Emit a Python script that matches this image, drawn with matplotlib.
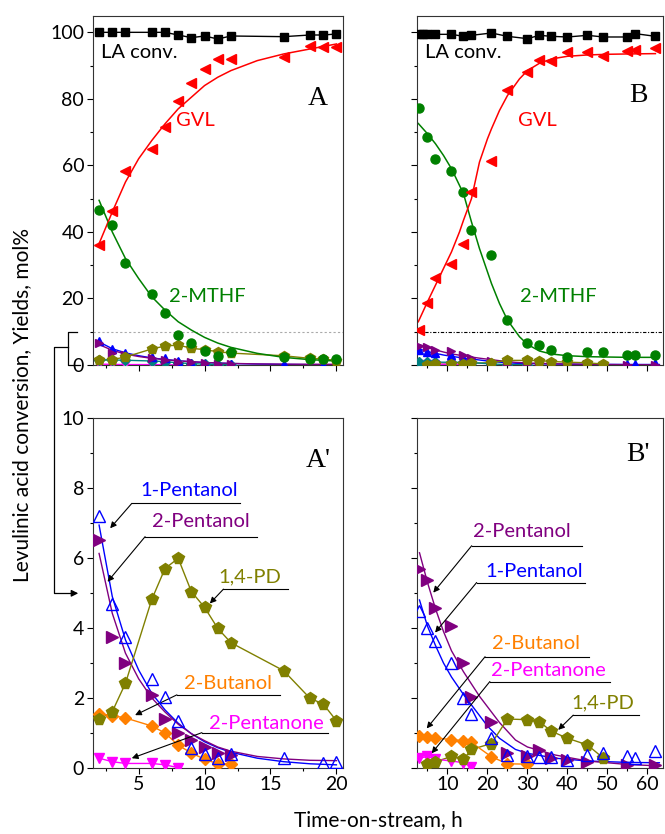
import matplotlib
matplotlib.use('Agg')
import matplotlib.pyplot as plt
from matplotlib.lines import Line2D
from matplotlib.ticker import MultipleLocator

plt.rcParams['font.family'] = ['Lato', 'DejaVu Sans']

# ---- run A (0-20 h) ----
tA = [2, 3, 4, 6, 7, 8, 9, 10, 11, 12, 16, 18, 19, 20]
la_A = [100, 100, 100, 100, 100, 99.2, 98.4, 98.9, 98, 98.9, 98.7, 99.2, 99.2, 99.5]
gvl_A = [36.1, 46.4, 58.4, 64.8, 71.4, 79.4, 84.9, 88.9, 91.9, 91.9, 92.7, 95.9, 95.7, 95.7]
mthf_A = [46.6, 42.1, 30.6, 21.3, 15.7, 9.0, 6.7, 4.2, 2.7, 3.9, 2.5, 1.7, 1.7, 1.7]
pd_A = [1.39, 1.61, 2.42, 4.82, 5.7, 5.99, 5.04, 4.59, 3.99, 3.58, 2.78, 1.99, 1.83, 1.35]

t_pen1_A = [2, 3, 4, 6, 7, 8, 9, 10, 11, 12, 16, 19, 20]
pen1_A = [7.2, 4.7, 3.75, 2.53, 2.04, 1.33, 0.58, 0.39, 0.28, 0.39, 0.28, 0.15, 0.18]
t_pen2_A = [2, 3, 4, 6, 7, 8, 9, 10, 11, 12]
pen2_A = [6.51, 3.75, 3.01, 2.09, 1.39, 0.99, 0.8, 0.6, 0.42, 0.37]
t_but_A = [2, 3, 4, 6, 7, 8, 9, 10, 11, 12]
but_A = [1.55, 1.5, 1.43, 1.2, 1.0, 0.65, 0.43, 0.25, 0.12, 0.12]
t_pnone_A = [2, 3, 4, 6, 7, 8]
pnone_A = [0.28, 0.18, 0.13, 0.13, 0.09, 0.01]

# fitted curves
t_fitA = [2, 3, 4, 5, 6, 7, 8, 9, 10, 11, 12, 14, 16, 18, 20]
gvl_fit_A = [36.5, 46, 55, 62, 67.5, 72.5, 77, 80.5, 84, 86.5, 88.5, 91.5, 93.5, 95, 96.5]
mthf_fit_A = [49.5, 40, 32, 26, 20.5, 16.5, 13, 10.5, 8.3, 6.6, 5.3, 3.5, 2.3, 1.6, 1.2]
pen1_fit_A = [6.94, 4.9, 3.66, 2.8, 2.13, 1.66, 1.28, 0.98, 0.75, 0.58, 0.45, 0.28, 0.18, 0.12, 0.09]
pen2_fit_A = [6.13, 4.42, 3.28, 2.55, 2.0, 1.6, 1.25, 0.98, 0.78, 0.6, 0.48, 0.33, 0.26, 0.22, 0.21]

# ---- run B (0-62 h) ----
tB = [3, 5, 7, 11, 14, 16, 21, 25, 30, 33, 36, 40, 45, 49, 55, 57, 62]
t_la_B = [3, 4, 5, 7, 11, 14, 16, 21, 25, 30, 33, 36, 40, 45, 49, 55, 57, 62]
la_B = [99.4, 99.4, 99.4, 99.4, 99.4, 98.8, 99.1, 99.8, 98.8, 98.1, 99.1, 98.8, 98.6, 99.1, 98.6, 98.6, 99.6, 98.8]
gvl_B = [10.5, 18.5, 26.3, 30.5, 36.3, 52, 61.4, 82.8, 88.1, 91.6, 91.4, 94.1, 94.1, 92.8, 94.4, 94.6, 95.4]
mthf_B = [77.4, 68.4, 61.8, 58.3, 52.1, 40.7, 33.2, 13.5, 6.5, 6.0, 4.5, 2.5, 4.0, 4.0, 3.0, 3.0, 3.0]
pen1_B = [4.5, 4.01, 3.64, 3.0, 2.0, 1.54, 0.85, 0.37, 0.34, 0.31, 0.31, 0.23, 0.37, 0.42, 0.34, 0.3, 0.5]
t_pen2_B = [3, 5, 7, 11, 14, 16, 21, 25, 30, 33, 36, 40, 45, 55, 62]
pen2_B = [5.7, 5.37, 4.56, 4.07, 2.99, 2.04, 1.32, 0.44, 0.35, 0.51, 0.3, 0.22, 0.18, 0.08, 0.1]
t_but_B = [3, 5, 7, 11, 14, 16, 21, 25, 30]
but_B = [0.92, 0.9, 0.86, 0.81, 0.78, 0.73, 0.32, 0.12, 0.11]
t_pnone_B = [3, 5, 7, 11, 14, 16]
pnone_B = [0.28, 0.33, 0.25, 0.2, 0.15, 0.04]
t_pd_B = [5, 7, 11, 14, 16, 21, 25, 30, 33, 36, 40, 45, 49]
pd_B = [0.12, 0.18, 0.33, 0.25, 0.53, 0.7, 1.4, 1.38, 1.32, 1.05, 0.85, 0.66, 0.28]

t_fitB_main = [2.7, 5, 7, 9, 11, 13, 14, 16, 18, 20, 21, 23, 25, 28, 30, 33, 36, 40, 45, 50, 55, 62]
gvl_fit_B = [13, 19, 24, 29, 34, 40, 43.5, 50, 61, 68, 71, 76.5, 81, 86, 88.5, 90.7, 92, 92.8, 93.2, 93.4, 93.5, 93.6]
mthf_fit_B = [72.6, 69.5, 66.5, 63, 59, 54, 51.5, 43, 35, 28, 24.5, 18.5, 13.5, 8.5, 6.2, 4.2, 3.3, 2.8, 2.5, 2.4, 2.3, 2.3]
t_fitB = [3, 5, 7, 9, 11, 14, 16, 18, 20, 23, 27, 30, 37, 45, 55, 63]
pen1_fit_B = [4.8, 4.05, 3.5, 3.0, 2.6, 2.1, 1.8, 1.5, 1.2, 0.85, 0.53, 0.42, 0.28, 0.2, 0.16, 0.15]
pen2_fit_B = [6.15, 5.3, 4.55, 3.9, 3.35, 2.75, 2.4, 2.05, 1.75, 1.3, 0.8, 0.6, 0.37, 0.2, 0.1, 0.06]

BLACK, RED, GREEN = 'black', '#ff0000', '#008000'
BLUE, PURPLE, OLIVE = '#0000ff', '#800080', '#808000'
ORANGE, MAGENTA, TEAL = '#ff8000', '#ff00ff', '#008080'

FS = 14.5  # annotation text size

W, H = 665, 834
fig = plt.figure(figsize=(W / 100, H / 100), dpi=100)


def box(l, r, t, b):
    return [l / W, 1 - b / H, (r - l) / W, (b - t) / H]


axA = fig.add_axes(box(92.5, 343, 15.7, 365))
axB = fig.add_axes(box(416.7, 663, 15.7, 365))
axA2 = fig.add_axes(box(92.5, 343, 418, 768))
axB2 = fig.add_axes(box(416.7, 663, 418, 768))

for ax in (axA, axB, axA2, axB2):
    ax.tick_params(direction='out', length=4, width=0.8, labelsize=14, pad=2)
    ax.tick_params(which='minor', direction='out', length=2.5, width=0.8)
    for s in ax.spines.values():
        s.set_linewidth(0.8)
        s.set_color('#333333')

ms_top = 6


def minor_series(ax, top, d):
    # d: tuple of all the minor product data for one run
    (tp1, p1, tp2, p2, tb, b, tpn, pn, tpd, pd, tf, f1, f2) = d
    ax.plot(tf, f1, color=BLUE, lw=1, zorder=2)
    ax.plot(tf, f2, color=PURPLE, lw=1, zorder=2)
    ax.plot(tpd, pd, color=OLIVE, lw=1, zorder=2)
    ax.plot(tb, b, color=TEAL if top else ORANGE, lw=1, zorder=2)
    ax.plot(tpn, pn, color=MAGENTA, lw=1, zorder=2)
    if top:
        ax.plot(tpn, pn, 'v', color=MAGENTA, ms=ms_top, mfc='white', zorder=3)
        ax.plot(tb, b, 'D', color=TEAL, ms=5, zorder=3)
        ax.plot(tp1, p1, '^', color=BLUE, ms=ms_top, zorder=3)
        ax.plot(tp2, p2, '>', color=PURPLE, ms=ms_top, zorder=3)
        ax.plot(tpd, pd, 'p', color=OLIVE, ms=ms_top + 1, zorder=3)
    else:
        ax.plot(tpn, pn, 'v', color=MAGENTA, ms=7, zorder=3)
        ax.plot(tb, b, 'D', color=ORANGE, ms=6, zorder=3)
        ax.plot(tpd, pd, 'p', color=OLIVE, ms=8.5, zorder=3)
        ax.plot(tp2, p2, '>', color=PURPLE, ms=8, zorder=3)
        ax.plot(tp1, p1, '^', color=BLUE, ms=8, mfc='none', mew=1, zorder=4)


dataA = (t_pen1_A, pen1_A, t_pen2_A, pen2_A, t_but_A, but_A, t_pnone_A, pnone_A,
         tA, pd_A, t_fitA, pen1_fit_A, pen2_fit_A)
dataB = (tB, pen1_B, t_pen2_B, pen2_B, t_but_B, but_B, t_pnone_B, pnone_B,
         t_pd_B, pd_B, t_fitB, pen1_fit_B, pen2_fit_B)

# ---- top panels ----
axA.axhline(10, color='#aaaaaa', lw=0.8, ls=(0, (2, 2)), zorder=1)
minor_series(axA, True, dataA)
axA.plot(t_fitA, mthf_fit_A, color=GREEN, lw=1.1, zorder=2)
axA.plot(t_fitA, gvl_fit_A, color=RED, lw=1.1, zorder=2)
axA.plot(tA, la_A, color=BLACK, lw=1, zorder=2)
axA.plot(tA, mthf_A, 'o', color=GREEN, ms=6.5, zorder=3)
axA.plot(tA, gvl_A, '<', color=RED, ms=7.5, zorder=3)
axA.plot(tA, la_A, 's', color=BLACK, ms=5.5, zorder=3)

axB.axhline(10, color='black', lw=0.8, ls=(0, (3, 1.5, 1, 1.5)), zorder=1)
minor_series(axB, True, dataB)
axB.plot(t_fitB_main, mthf_fit_B, color=GREEN, lw=1.1, zorder=2)
axB.plot(t_fitB_main, gvl_fit_B, color=RED, lw=1.1, zorder=2)
axB.plot(t_la_B, la_B, color=BLACK, lw=1, zorder=2)
axB.plot(tB, mthf_B, 'o', color=GREEN, ms=6.5, zorder=3)
axB.plot(tB, gvl_B, '<', color=RED, ms=7.5, zorder=3)
axB.plot(t_la_B, la_B, 's', color=BLACK, ms=5.5, zorder=3)

for ax in (axA, axB):
    ax.set_ylim(0, 105)
    ax.yaxis.set_major_locator(MultipleLocator(20))
    ax.yaxis.set_minor_locator(MultipleLocator(10))
    ax.tick_params(labelbottom=False)
    ax.text(0.035, 0.895, 'LA conv.', transform=ax.transAxes, fontsize=FS,
            ha='left', va='center')
axA.set_xlim(1.5, 20.5)
axB.set_xlim(2.3, 63.9)
axB.tick_params(labelleft=False)

axA.text(9.3, 73.5, 'GVL', color=RED, fontsize=FS, ha='center', va='center')
axA.text(10.2, 20.5, '2-MTHF', color=GREEN, fontsize=FS, ha='center', va='center')
axB.text(32.5, 73.5, 'GVL', color=RED, fontsize=FS, ha='center', va='center')
axB.text(37.8, 20.5, '2-MTHF', color=GREEN, fontsize=FS, ha='center', va='center')

# ---- bottom panels ----
minor_series(axA2, False, dataA)
minor_series(axB2, False, dataB)
for ax in (axA2, axB2):
    ax.set_ylim(0, 10)
    ax.yaxis.set_major_locator(MultipleLocator(2))
    ax.yaxis.set_minor_locator(MultipleLocator(1))
axA2.set_xlim(1.5, 20.5)
axA2.xaxis.set_major_locator(MultipleLocator(5))
axA2.xaxis.set_minor_locator(MultipleLocator(2.5))
axA.xaxis.set_major_locator(MultipleLocator(5))
axA.xaxis.set_minor_locator(MultipleLocator(2.5))
axB2.set_xlim(2.3, 63.9)
axB2.xaxis.set_major_locator(MultipleLocator(10))
axB2.xaxis.set_minor_locator(MultipleLocator(5))
axB.xaxis.set_major_locator(MultipleLocator(10))
axB.xaxis.set_minor_locator(MultipleLocator(5))
axB2.tick_params(labelleft=False)

serif = ['Liberation Serif', 'DejaVu Serif']
for ax, lab, yy in ((axA, 'A', 0.764), (axB, 'B', 0.772),
                    (axA2, "A'", 0.88), (axB2, "B'", 0.895)):
    ax.text(0.9, yy, lab, transform=ax.transAxes, family=serif, fontsize=20,
            ha='center', va='center')


def tag(ax, text, color, tx, ty, x0, x1, yl, tip):
    ax.text(tx, ty, text, color=color, fontsize=FS, ha='center', va='center')
    ax.plot([x0, x1], [yl, yl], color='black', lw=0.8, zorder=1)
    ax.annotate('', xy=tip, xytext=(x0, yl),
                arrowprops=dict(arrowstyle='-|>', color='black', lw=0.8,
                                mutation_scale=9, shrinkA=0, shrinkB=0))


tag(axA2, '1-Pentanol', BLUE, 8.8, 7.94, 4.48, 12.7, 7.56, (2.84, 6.85))
tag(axA2, '2-Pentanol', PURPLE, 9.7, 7.04, 5.49, 13.95, 6.61, (2.64, 5.32))
tag(axA2, '1,4-PD', OLIVE, 13.45, 5.47, 11.43, 16.35, 5.11, (10.4, 4.7))
tag(axA2, '2-Butanol', ORANGE, 11.8, 2.42, 7.9, 15.7, 2.09, (4.73, 1.51))
tag(axA2, '2-Pentanone', MAGENTA, 14.66, 1.28, 9.8, 19.4, 1.01, (4.48, 0.28))

tag(axB2, '2-Pentanol', PURPLE, 28.7, 6.75, 16.05, 43.55, 6.35, (6.45, 5.01))
tag(axB2, '1-Pentanol', BLUE, 31.6, 5.61, 17.3, 44.4, 5.3, (6.9, 3.87))
tag(axB2, '2-Butanol', ORANGE, 32.05, 3.56, 19.4, 45.5, 3.18, (4.8, 1.13))
tag(axB2, '2-Pentanone', MAGENTA, 35.2, 2.78, 20.6, 50.6, 2.47, (6.05, 0.42))
tag(axB2, '1,4-PD', OLIVE, 48.95, 1.85, 41.45, 58.0, 1.51, (37.7, 1.09))


# ---- bracket linking the 0-10 band to the lower panels ----
def fx(px):
    return px / W


def fy(py):
    return 1 - py / H


lk = dict(color='black', lw=0.9, transform=fig.transFigure)
fig.add_artist(Line2D([fx(77.3), fx(68.3), fx(68.3), fx(80)],
                      [fy(331.7), fy(331.7), fy(365), fy(365)], **lk))
fig.add_artist(Line2D([fx(68.3), fx(54), fx(54), fx(74)],
                      [fy(346.7), fy(346.7), fy(593.3), fy(593.3)], **lk))
fig.add_artist(matplotlib.patches.FancyArrowPatch(
    (fx(70), fy(593.3)), (fx(81), fy(593.3)), transform=fig.transFigure,
    arrowstyle='-|>', mutation_scale=10, color='black', lw=0.9))

fig.text(22 / W, fy(405), 'Levulinic acid conversion, Yields, mol%', rotation=90,
         ha='center', va='center', fontsize=15)
fig.text(378 / W, fy(820), 'Time-on-stream, h', ha='center', va='center', fontsize=15)

fig.savefig('out.png', dpi=100)
